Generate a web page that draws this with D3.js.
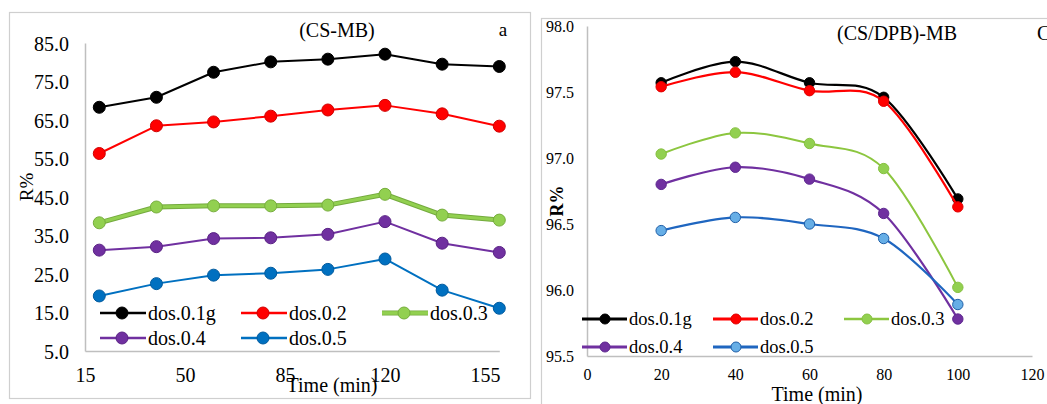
<!DOCTYPE html>
<html>
<head>
<meta charset="utf-8">
<script src="https://cdn.jsdelivr.net/npm/d3@7"></script>
<style>
  html, body { margin: 0; padding: 0; background: #fff; }
  svg { display: block; }
  text { font-family: "Liberation Serif", "Times New Roman", serif; fill: #000; }
</style>
</head>
<body>
<svg id="chart" width="1047" height="404"></svg>
<script>
// ---- data: removal R% vs contact time, five adsorbent doses ----
const doseLabels = ["dos.0.1g", "dos.0.2", "dos.0.3", "dos.0.4", "dos.0.5"];

// panel a: (CS-MB)
const timesA = [20, 40, 60, 80, 100, 120, 140, 160];
const csDose01 = [68.3, 70.9, 77.4, 80.1, 80.8, 82.1, 79.5, 78.9];
const csDose02 = [56.3, 63.5, 64.5, 66.0, 67.6, 68.8, 66.6, 63.4];
const csDose03 = [38.3, 42.4, 42.7, 42.7, 42.9, 45.7, 40.3, 39.0];
const csDose04 = [31.2, 32.1, 34.2, 34.4, 35.3, 38.6, 33.0, 30.6];
const csDose05 = [19.3, 22.5, 24.7, 25.2, 26.2, 28.9, 20.8, 16.1];
const ticksAx = [15, 50, 85, 120, 155];
const ticksAy = [5, 15, 25, 35, 45, 55, 65, 75, 85];

// panel c: (CS/DPB)-MB
const timesC = [20, 40, 60, 80, 100];
const dpbDose01 = [97.57, 97.73, 97.57, 97.46, 96.69];
const dpbDose02 = [97.54, 97.65, 97.51, 97.43, 96.63];
const dpbDose03 = [97.03, 97.19, 97.11, 96.92, 96.02];
const dpbDose04 = [96.80, 96.93, 96.84, 96.58, 95.78];
const dpbDose05 = [96.45, 96.55, 96.50, 96.39, 95.89];
const ticksCx = [0, 20, 40, 60, 80, 100, 120];
const ticksCy = [95.5, 96.0, 96.5, 97.0, 97.5, 98.0];

const svg = d3.select("#chart");
const AXIS_GREY = "#bfbfbf";

// panel frames
svg.append("rect").attr("x", 9.5).attr("y", 12.5).attr("width", 521).attr("height", 386)
  .attr("fill", "none").attr("stroke", "#cfcfcf").attr("stroke-width", 1.2);
svg.append("rect").attr("x", 541.5).attr("y", 18.5).attr("width", 520).attr("height", 400)
  .attr("fill", "none").attr("stroke", "#cfcfcf").attr("stroke-width", 1.2);

// ================= panel a =================
const styleA = [
  { line: "#000000", width: 2, fill: "#000000", stroke: "#000000", halo: null },
  { line: "#ff0000", width: 2, fill: "#ff0000", stroke: "#d00000", halo: "#b00000" },
  { line: "#92d050", width: 3, fill: "#92d050", stroke: "#76ad3c", halo: "#74aa3e" },
  { line: "#7030a0", width: 2, fill: "#7030a0", stroke: "#5a2385", halo: null },
  { line: "#0070c0", width: 2, fill: "#0070c0", stroke: "#005a9e", halo: null }
];
const seriesA = [csDose01, csDose02, csDose03, csDose04, csDose05];

const xA = d3.scaleLinear().domain([15, 160]).range([85, 499.3]);
const yA = d3.scaleLinear().domain([5, 85]).range([351, 43]);

const gA = svg.append("g");
const axAx = gA.append("g").attr("transform", `translate(0,${yA(5)})`)
  .call(d3.axisBottom(xA).tickValues(ticksAx).tickSize(0).tickPadding(0).tickFormat(d3.format("d")));
axAx.select(".domain").attr("stroke", AXIS_GREY).attr("stroke-width", 1.5);
axAx.selectAll("text").attr("y", 31).attr("dy", 0).style("font-size", "20px").style("font-family", "Liberation Serif");

const axAy = gA.append("g").attr("transform", `translate(${xA(15)},0)`)
  .call(d3.axisLeft(yA).tickValues(ticksAy).tickSize(0).tickPadding(0).tickFormat(d3.format(".1f")));
axAy.select(".domain").attr("stroke", AXIS_GREY).attr("stroke-width", 1.5);
axAy.selectAll("text").attr("x", -16).attr("dy", "0.35em").style("font-size", "20px").style("font-family", "Liberation Serif");

const lineA = d3.line().x((d, i) => xA(timesA[i])).y(d => yA(d));
seriesA.forEach((vals, k) => {
  const s = styleA[k];
  if (k === 2) {
    gA.append("path").attr("d", lineA(vals)).attr("fill", "none")
      .attr("stroke", s.halo).attr("stroke-width", 5).attr("stroke-linejoin", "round");
  }
  gA.append("path").attr("d", lineA(vals)).attr("fill", "none")
    .attr("stroke", s.line).attr("stroke-width", s.width).attr("stroke-linejoin", "round");
  gA.selectAll(null).data(vals).join("circle")
    .attr("cx", (d, i) => xA(timesA[i])).attr("cy", d => yA(d)).attr("r", 6)
    .attr("fill", s.fill).attr("stroke", s.stroke).attr("stroke-width", 1);
});

// titles and labels
gA.append("text").attr("x", 337).attr("y", 37).attr("text-anchor", "middle")
  .style("font-size", "20px").text("(CS-MB)");
gA.append("text").attr("x", 503).attr("y", 36).attr("text-anchor", "middle")
  .style("font-size", "19px").text("a");
gA.append("text").attr("transform", "translate(33,187) rotate(-90)").attr("text-anchor", "middle")
  .style("font-size", "19px").text("R%");
gA.append("text").attr("x", 332).attr("y", 392).attr("text-anchor", "middle")
  .style("font-size", "20px").text("Time (min)");

// legend a
const legPosA = [[100, 313], [241, 313], [382, 313], [100, 338], [241, 338]];
legPosA.forEach(([lx, ly], k) => {
  const s = styleA[k];
  const g = gA.append("g");
  if (k === 2) {
    g.append("line").attr("x1", lx).attr("x2", lx + 46).attr("y1", ly).attr("y2", ly)
      .attr("stroke", s.halo).attr("stroke-width", 5);
  }
  g.append("line").attr("x1", lx).attr("x2", lx + 46).attr("y1", ly).attr("y2", ly)
    .attr("stroke", s.line).attr("stroke-width", s.width + 0.5);
  g.append("circle").attr("cx", lx + 22).attr("cy", ly).attr("r", 6)
    .attr("fill", s.fill).attr("stroke", s.stroke).attr("stroke-width", 1);
  g.append("text").attr("x", lx + 48).attr("y", ly + 7).style("font-size", "20px").text(doseLabels[k]);
});

// ================= panel c =================
const styleC = [
  { line: "#000000", width: 2.2, fill: "#000000", stroke: "#000000" },
  { line: "#ff0000", width: 2.2, fill: "#ff0000", stroke: "#e00000" },
  { line: "#8cc63f", width: 2, fill: "#92d050", stroke: "#86c040" },
  { line: "#7030a0", width: 2.2, fill: "#7030a0", stroke: "#5e2890" },
  { line: "#1f66c0", width: 2.2, fill: "#66aee6", stroke: "#1f5fa8" }
];
const seriesC = [dpbDose01, dpbDose02, dpbDose03, dpbDose04, dpbDose05];

const xC = d3.scaleLinear().domain([0, 120]).range([587, 1032]);
const yC = d3.scaleLinear().domain([95.5, 98]).range([356, 26]);

const gC = svg.append("g");
const axCx = gC.append("g").attr("transform", `translate(0,${yC(95.5)})`)
  .call(d3.axisBottom(xC).tickValues(ticksCx).tickSize(0).tickPadding(0).tickFormat(d3.format("d")));
axCx.select(".domain").attr("stroke", AXIS_GREY).attr("stroke-width", 1.5);
axCx.selectAll("text").attr("y", 24).attr("dy", 0).style("font-size", "16px").style("font-family", "Liberation Serif");

const axCy = gC.append("g").attr("transform", `translate(${xC(0)},0)`)
  .call(d3.axisLeft(yC).tickValues(ticksCy).tickSize(0).tickPadding(0).tickFormat(d3.format(".1f")));
axCy.select(".domain").attr("stroke", AXIS_GREY).attr("stroke-width", 1.5);
axCy.selectAll("text").attr("x", -13).attr("dy", "0.35em").style("font-size", "16px").style("font-family", "Liberation Serif");

const lineC = d3.line().curve(d3.curveCatmullRom.alpha(0))
  .x((d, i) => xC(timesC[i])).y(d => yC(d));
seriesC.forEach((vals, k) => {
  const s = styleC[k];
  gC.append("path").attr("d", lineC(vals)).attr("fill", "none")
    .attr("stroke", s.line).attr("stroke-width", s.width).attr("stroke-linejoin", "round");
  gC.selectAll(null).data(vals).join("circle")
    .attr("cx", (d, i) => xC(timesC[i])).attr("cy", d => yC(d)).attr("r", 5.2)
    .attr("fill", s.fill).attr("stroke", s.stroke).attr("stroke-width", 1);
});

gC.append("text").attr("x", 897).attr("y", 40).attr("text-anchor", "middle")
  .style("font-size", "20px").text("(CS/DPB)-MB");
gC.append("text").attr("x", 1037).attr("y", 40)
  .style("font-size", "20px").text("C");
gC.append("text").attr("transform", "translate(563,201) rotate(-90)").attr("text-anchor", "middle")
  .style("font-size", "18px").style("font-weight", "bold").text("R%");
gC.append("text").attr("x", 817).attr("y", 401).attr("text-anchor", "middle")
  .style("font-size", "20px").text("Time (min)");

// legend c
const legPosC = [[582, 319], [713, 319], [844, 319], [582, 347], [713, 347]];
legPosC.forEach(([lx, ly], k) => {
  const s = styleC[k];
  const g = gC.append("g");
  g.append("line").attr("x1", lx).attr("x2", lx + 45).attr("y1", ly).attr("y2", ly)
    .attr("stroke", s.line).attr("stroke-width", s.width + 0.6);
  g.append("circle").attr("cx", lx + 23).attr("cy", ly).attr("r", 5)
    .attr("fill", s.fill).attr("stroke", s.stroke).attr("stroke-width", 1);
  g.append("text").attr("x", lx + 47).attr("y", ly + 6).style("font-size", "18.5px").text(doseLabels[k]);
});
</script>
</body>
</html>
